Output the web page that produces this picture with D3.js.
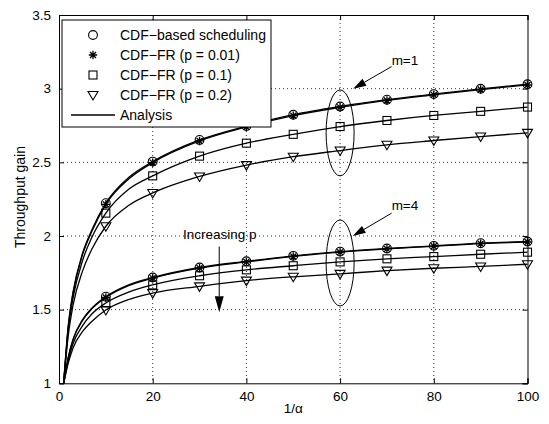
<!DOCTYPE html>
<html>
<head>
<meta charset="utf-8">
<script src="https://cdn.jsdelivr.net/npm/d3@7"></script>
<style>
  body { margin: 0; background: #fff; }
  text { font-family: "Liberation Sans", Arial, Helvetica, sans-serif; fill: #000; }
</style>
</head>
<body>
<div id="chart"></div>
<script>
var alphaInv = [1, 2, 3, 5, 7, 10, 15, 20, 30, 40, 50, 60, 70, 80, 90, 100];

// m = 1
var m1Cdf  = [1, 1.40, 1.62, 1.88, 2.04, 2.223, 2.40, 2.505, 2.652, 2.746, 2.823, 2.879, 2.925, 2.963, 2.999, 3.03];
var m1P001 = [1, 1.39, 1.61, 1.87, 2.03, 2.215, 2.39, 2.498, 2.645, 2.740, 2.817, 2.873, 2.920, 2.958, 2.994, 3.025];
var m1P01  = [1, 1.37, 1.58, 1.83, 1.99, 2.155, 2.32, 2.408, 2.542, 2.630, 2.690, 2.743, 2.784, 2.818, 2.846, 2.875];
var m1P02  = [1, 1.33, 1.53, 1.76, 1.91, 2.066, 2.21, 2.292, 2.404, 2.481, 2.538, 2.580, 2.619, 2.648, 2.675, 2.700];

// m = 4
var m4Cdf  = [1, 1.18, 1.30, 1.43, 1.51, 1.588, 1.67, 1.718, 1.786, 1.828, 1.865, 1.894, 1.915, 1.933, 1.951, 1.962];
var m4P001 = [1, 1.18, 1.295, 1.425, 1.505, 1.583, 1.665, 1.714, 1.782, 1.824, 1.861, 1.890, 1.912, 1.930, 1.948, 1.959];
var m4P01  = [1, 1.16, 1.27, 1.39, 1.47, 1.545, 1.62, 1.668, 1.730, 1.770, 1.798, 1.824, 1.845, 1.860, 1.876, 1.890];
var m4P02  = [1, 1.14, 1.24, 1.35, 1.42, 1.498, 1.57, 1.612, 1.658, 1.697, 1.723, 1.743, 1.765, 1.781, 1.793, 1.808];

var xTicks = [0, 20, 40, 60, 80, 100];
var yTicks = [1, 1.5, 2, 2.5, 3, 3.5];
var yTickLabels = ["1", "1.5", "2", "2.5", "3", "3.5"];

var legendLabels = ["CDF\u2212based scheduling", "CDF\u2212FR (p = 0.01)",
                    "CDF\u2212FR (p = 0.1)", "CDF\u2212FR (p = 0.2)", "Analysis"];
var legendMarkers = ["circle", "star", "square", "triangle", "line"];

var series = [
  { marker: "circle",   values: m1Cdf },
  { marker: "star",     values: m1P001 },
  { marker: "square",   values: m1P01 },
  { marker: "triangle", values: m1P02 },
  { marker: "circle",   values: m4Cdf },
  { marker: "star",     values: m4P001 },
  { marker: "square",   values: m4P01 },
  { marker: "triangle", values: m4P02 }
];

var width = 549, height = 424;
var plotLeft = 59, plotRight = 527.5, plotTop = 15, plotBottom = 383.3;

var svg = d3.select("#chart").append("svg")
    .attr("width", width).attr("height", height);

var x = d3.scaleLinear().domain([0, 100]).range([plotLeft, plotRight]);
var y = d3.scaleLinear().domain([1, 3.5]).range([plotBottom, plotTop]);

// dotted grid
svg.selectAll(".gx").data(xTicks.slice(1, -1)).enter().append("line")
    .attr("x1", function(d) { return x(d); }).attr("x2", function(d) { return x(d); })
    .attr("y1", plotTop).attr("y2", plotBottom)
    .style("stroke", "#333").style("stroke-dasharray", "1,3");
svg.selectAll(".gy").data(yTicks.slice(1, -1)).enter().append("line")
    .attr("y1", function(d) { return y(d); }).attr("y2", function(d) { return y(d); })
    .attr("x1", plotLeft).attr("x2", plotRight)
    .style("stroke", "#333").style("stroke-dasharray", "1,3");

// axes with inner ticks on all four sides
var fmtY = function(d, i) { return yTickLabels[i]; };
svg.append("g").attr("transform", "translate(0," + plotBottom + ")")
    .call(d3.axisBottom(x).tickValues(xTicks).tickSize(-5).tickPadding(8));
svg.append("g").attr("transform", "translate(0," + plotTop + ")")
    .call(d3.axisTop(x).tickValues(xTicks).tickSize(-5).tickFormat(""));
svg.append("g").attr("transform", "translate(" + plotLeft + ",0)")
    .call(d3.axisLeft(y).tickValues(yTicks).tickSize(-5).tickPadding(8).tickFormat(fmtY));
svg.append("g").attr("transform", "translate(" + plotRight + ",0)")
    .call(d3.axisRight(y).tickValues(yTicks).tickSize(-5).tickFormat(""));

svg.selectAll(".domain").style("stroke", "#000");
svg.selectAll(".tick line").style("stroke", "#000");
svg.selectAll(".tick text")
    .style("font-size", "13.5px")
    .style("font-family", "'Liberation Sans', Arial, sans-serif");

// analysis curves
var line = d3.line()
    .x(function(d, i) { return x(alphaInv[i]); })
    .y(function(d) { return y(d); })
    .curve(d3.curveMonotoneX);

series.forEach(function(s) {
  svg.append("path")
    .attr("d", line(s.values))
    .style("fill", "none")
    .style("stroke", "#000")
    .style("stroke-width", 1.3);
});

function drawMarker(g, type, cx, cy) {
  if (type == "circle") {
    g.append("circle").attr("cx", cx).attr("cy", cy).attr("r", 4.4)
      .style("fill", "none").style("stroke", "#000").style("stroke-width", 1.1);
  } else if (type == "square") {
    g.append("rect").attr("x", cx - 4).attr("y", cy - 4)
      .attr("width", 8).attr("height", 8)
      .style("fill", "none").style("stroke", "#000").style("stroke-width", 1.1);
  } else if (type == "triangle") {
    g.append("path")
      .attr("d", "M " + (cx - 5) + " " + (cy - 3.5) + " L " + (cx + 5) + " " + (cy - 3.5) +
                 " L " + cx + " " + (cy + 5) + " z")
      .style("fill", "none").style("stroke", "#000").style("stroke-width", 1.1);
  } else if (type == "star") {
    var r = 4.2, d = "";
    for (var k = 0; k < 4; k++) {
      var a = k * Math.PI / 4;
      d += "M " + (cx - r * Math.cos(a)) + " " + (cy - r * Math.sin(a)) +
           " L " + (cx + r * Math.cos(a)) + " " + (cy + r * Math.sin(a)) + " ";
    }
    g.append("path").attr("d", d).style("stroke", "#000").style("stroke-width", 1.3);
  } else if (type == "line") {
    g.append("line").attr("x1", cx - 22).attr("x2", cx + 22)
      .attr("y1", cy).attr("y2", cy)
      .style("stroke", "#000").style("stroke-width", 1.3);
  }
}

// simulation markers at 1/alpha = 10, 20, ..., 100
var markers = svg.append("g");
series.forEach(function(s) {
  s.values.forEach(function(v, i) {
    var a = alphaInv[i];
    if (a >= 10 && a % 10 == 0) {
      drawMarker(markers, s.marker, x(a), y(v));
    }
  });
});

// annotations
function arrow(x1, y1, x2, y2, len, half) {
  var px1 = x(x1), py1 = y(y1), px2 = x(x2), py2 = y(y2);
  var ang = Math.atan2(py2 - py1, px2 - px1);
  var bx = px2 - len * Math.cos(ang), by = py2 - len * Math.sin(ang);
  svg.append("line").attr("x1", px1).attr("y1", py1).attr("x2", bx).attr("y2", by)
    .style("stroke", "#000");
  svg.append("path")
    .attr("d", "M " + px2 + " " + py2 +
               " L " + (bx + half * Math.sin(ang)) + " " + (by - half * Math.cos(ang)) +
               " L " + (bx - half * Math.sin(ang)) + " " + (by + half * Math.cos(ang)) + " z")
    .style("fill", "#000");
}

svg.append("ellipse").attr("cx", x(60)).attr("cy", y(2.70)).attr("rx", 14).attr("ry", 43)
  .style("fill", "none").style("stroke", "#000");
svg.append("ellipse").attr("cx", x(60)).attr("cy", y(1.817)).attr("rx", 14).attr("ry", 43)
  .style("fill", "none").style("stroke", "#000");

arrow(71, 3.15, 62.8, 3.0, 13, 4);
arrow(71, 2.155, 62.7, 2.0, 13, 4);
arrow(34.2, 1.928, 34.2, 1.483, 16, 4.5);

svg.append("text").attr("x", x(71)).attr("y", y(3.196)).attr("dy", "0.35em")
  .style("font-size", "13.5px").text("m=1");
svg.append("text").attr("x", x(71)).attr("y", y(2.21)).attr("dy", "0.35em")
  .style("font-size", "13.5px").text("m=4");
svg.append("text").attr("x", x(34.3)).attr("y", y(2.013)).attr("dy", "0.35em")
  .attr("text-anchor", "middle").style("font-size", "13.5px").text("Increasing p");

// axis labels
svg.append("text").attr("x", (plotLeft + plotRight) / 2).attr("y", 413)
  .attr("text-anchor", "middle").style("font-size", "13.5px").text("1/\u03b1");
svg.append("text")
  .attr("transform", "translate(25," + 197 + ") rotate(-90)")
  .attr("text-anchor", "middle").style("font-size", "14px").text("Throughput gain");

// legend
var legend = svg.append("g");
legend.append("rect").attr("x", 62).attr("y", 20).attr("width", 209).attr("height", 107)
  .style("fill", "#fff").style("stroke", "#000");
legendLabels.forEach(function(label, i) {
  var ly = 35 + i * 20;
  drawMarker(legend, legendMarkers[i], 93, ly);
  legend.append("text").attr("x", 120).attr("y", ly).attr("dy", "0.35em")
    .style("font-size", "14px").text(label);
});
</script>
</body>
</html>
